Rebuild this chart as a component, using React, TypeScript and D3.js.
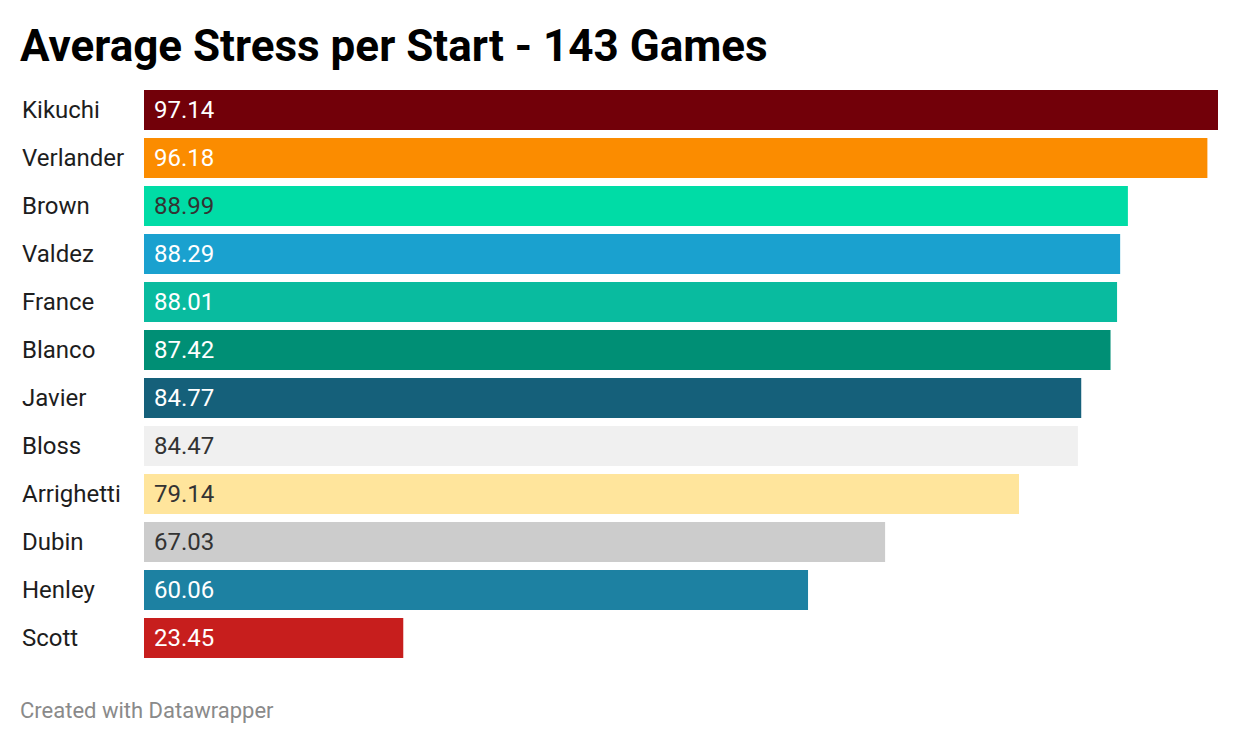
import * as d3 from 'd3';
import { useEffect, useRef } from 'react';

const names = [
  'Kikuchi', 'Verlander', 'Brown', 'Valdez', 'France', 'Blanco',
  'Javier', 'Bloss', 'Arrighetti', 'Dubin', 'Henley', 'Scott',
];
const values = [97.14, 96.18, 88.99, 88.29, 88.01, 87.42, 84.77, 84.47, 79.14, 67.03, 60.06, 23.45];
const colors = [
  '#720009', '#fb8c00', '#00dca6', '#1aa1cf', '#09bb9f', '#008f75',
  '#15607a', '#f0f0f0', '#ffe59c', '#cccccc', '#1d81a2', '#c71e1d',
];
const darkText = ['Brown', 'Bloss', 'Arrighetti', 'Dubin'];

const W = 1240;
const H = 744;

export default function App() {
  const svgRef = useRef<SVGSVGElement>(null);

  useEffect(() => {
    document.body.style.margin = '0';
    if (!svgRef.current) return;
    const svg = d3.select(svgRef.current);
    svg.selectAll('*').remove();

    const font = 'Roboto, sans-serif';
    const left = 144;
    const right = 1218;
    const top = 90;
    const barH = 40;
    const gap = 8;

    const x = d3.scaleLinear().domain([0, d3.max(values) || 1]).range([0, right - left]);
    const y = d3.scaleBand<string>()
      .domain(names)
      .range([top, top + (barH + gap) * names.length - gap])
      .paddingInner(gap / (barH + gap))
      .paddingOuter(0);
    const band = y.bandwidth();

    svg.append('text')
      .attr('x', 20)
      .attr('y', 61)
      .attr('font-family', font)
      .attr('font-weight', 700)
      .attr('font-size', 44)
      .attr('fill', '#000')
      .text('Average Stress per Start - 143 Games');

    const rows = svg.append('g');

    rows.selectAll('rect')
      .data(names)
      .join('rect')
      .attr('x', left)
      .attr('y', (d) => y(d) || 0)
      .attr('height', band)
      .attr('width', (_, i) => x(values[i]))
      .attr('fill', (_, i) => colors[i]);

    rows.selectAll('.label')
      .data(names)
      .join('text')
      .attr('class', 'label')
      .attr('x', 22)
      .attr('y', (d) => (y(d) || 0) + band / 2)
      .attr('dy', '0.35em')
      .attr('font-family', font)
      .attr('font-size', 24)
      .attr('fill', '#1d1d1d')
      .text((d) => d);

    rows.selectAll('.value')
      .data(names)
      .join('text')
      .attr('class', 'value')
      .attr('x', left + 10)
      .attr('y', (d) => (y(d) || 0) + band / 2)
      .attr('dy', '0.35em')
      .attr('font-family', font)
      .attr('font-size', 24)
      .attr('fill', (d) => (darkText.includes(d) ? '#333333' : '#ffffff'))
      .text((_, i) => values[i].toFixed(2));

    svg.append('text')
      .attr('x', 20)
      .attr('y', 718)
      .attr('font-family', font)
      .attr('font-size', 22)
      .attr('fill', '#8a8a8a')
      .text('Created with Datawrapper');
  }, []);

  return <svg ref={svgRef} width={W} height={H} style={{ display: 'block', background: '#fff' }} />;
}
